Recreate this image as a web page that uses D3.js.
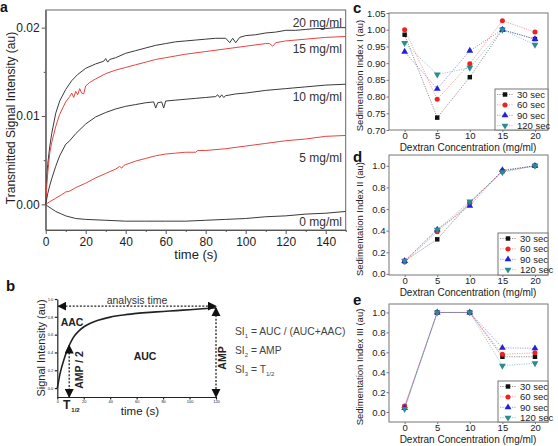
<!DOCTYPE html>
<html>
<head>
<meta charset="utf-8">
<script src="https://cdn.jsdelivr.net/npm/d3@7"></script>
<style>
  body { margin: 0; background: #fff; }
  svg { display: block; font-family: "Liberation Sans", Arial, sans-serif; }
</style>
</head>
<body>
<svg id="chart" width="558" height="446"></svg>
<script>
// ---------- data: panel a (transmitted signal vs time) ----------
const aTicksX = [0, 20, 40, 60, 80, 100, 120, 140];
const aTicksY = [0, 0.01, 0.02];

const curve20 = [[0,0],[0.5,0.003],[1,0.0045],[2,0.0065],[3,0.008],[5,0.0103],[7,0.0117],[10,0.013],[13,0.014],[16,0.0147],[20,0.0154],[25,0.0159],[29,0.0162],[30,0.0165],[31,0.0161],[32,0.0164],[35,0.0166],[40,0.0171],[45,0.0174],[50,0.0177],[55,0.018],[60,0.0182],[65,0.0184],[70,0.0185],[75,0.0186],[80,0.0187],[85,0.0188],[90,0.0188],[92,0.0183],[93.5,0.0188],[95,0.0183],[97,0.0189],[100,0.0191],[105,0.0192],[110,0.0194],[115,0.0195],[120,0.0197],[125,0.0197],[130,0.0198],[135,0.0199],[140,0.0199],[145,0.02],[150,0.02]];
const curve15 = [[0,0],[0.5,0.002],[1,0.0035],[2,0.0058],[3,0.007],[5,0.0088],[7,0.0102],[10,0.0116],[12,0.0122],[13,0.0126],[14,0.0121],[15,0.0128],[16,0.0124],[17,0.0131],[18,0.0126],[19,0.0125],[20,0.0134],[22,0.0138],[25,0.0142],[30,0.0148],[35,0.0152],[40,0.0155],[45,0.0158],[50,0.0161],[55,0.0164],[60,0.0166],[65,0.0168],[70,0.017],[80,0.0173],[90,0.0176],[100,0.0179],[110,0.0182],[112,0.0182],[113.5,0.0179],[115,0.0183],[120,0.0185],[130,0.0187],[140,0.0189],[150,0.019]];
const curve10 = [[0,0],[1,0.0012],[2,0.0021],[3,0.0029],[5,0.0043],[7,0.0055],[10,0.0068],[12,0.0072],[15,0.008],[20,0.0091],[25,0.0099],[30,0.0104],[35,0.0108],[40,0.0111],[45,0.0113],[50,0.0115],[54,0.0116],[55,0.0109],[56,0.0115],[58,0.0116],[59,0.0109],[60,0.0117],[65,0.0118],[70,0.0119],[75,0.012],[80,0.0121],[85,0.0122],[86,0.0124],[87,0.0121],[88,0.0124],[89,0.0121],[90,0.0123],[95,0.0125],[100,0.0126],[110,0.0129],[120,0.0131],[130,0.0133],[140,0.0135],[150,0.0136]];
const curve5 = [[0,0],[2,0.0003],[5,0.0007],[8,0.0011],[10,0.0014],[12,0.0015],[15,0.0019],[20,0.0024],[25,0.003],[30,0.0035],[35,0.004],[37,0.0043],[38,0.0041],[39,0.0044],[40,0.0045],[45,0.0049],[50,0.0052],[55,0.0055],[60,0.0057],[65,0.0058],[70,0.0059],[75,0.0059],[76,0.0061],[80,0.0061],[90,0.0063],[100,0.0066],[110,0.0069],[120,0.0072],[130,0.0074],[140,0.0077],[150,0.0078]];
const curve0 = [[0,0],[1,-0.0002],[3,-0.0005],[5,-0.0008],[8,-0.0011],[10,-0.0013],[15,-0.0016],[20,-0.0017],[30,-0.0018],[40,-0.0019],[50,-0.0019],[60,-0.0019],[70,-0.0019],[80,-0.0018],[90,-0.0017],[100,-0.0016],[110,-0.0014],[120,-0.0013],[130,-0.0011],[140,-0.001],[150,-0.0008]];
const curveLabels = ["20 mg/ml", "15 mg/ml", "10 mg/ml", "5 mg/ml", "0 mg/ml"];

// ---------- data: panel b (schematic) ----------
const bTicksX = [0, 20, 40, 60, 80, 100, 120];
const bTicksY = [0, 0.2, 0.4, 0.6, 0.8, 1.0];
const bCurve = [[0,0],[1,0.08],[2,0.16],[3,0.22],[5,0.32],[7,0.41],[9,0.48],[11,0.54],[13,0.59],[16,0.64],[20,0.69],[25,0.73],[30,0.76],[40,0.8],[50,0.82],[60,0.84],[70,0.85],[80,0.86],[90,0.87],[100,0.88],[110,0.89],[120,0.9]];
const bHalfTime = 9;
const bHalfValue = 0.48;
const bAmpValue = 0.9;
const bAnalysisValue = 0.92;

// ---------- data: panels c, d, e (sedimentation indices) ----------
const conc = [0, 5, 10, 15, 20];
const timeLabels = ["30 sec", "60 sec", "90 sec", "120 sec"];
const si1 = [
  [0.985, 0.737, 0.858, 1.0, 0.972],
  [1.0, 0.792, 0.898, 1.027, 0.993],
  [0.934, 0.823, 0.937, 1.0, 0.972],
  [0.96, 0.866, 0.886, 1.0, 0.955],
];
const si2 = [
  [0.12, 0.32, 0.66, 0.95, 1.0],
  [0.11, 0.39, 0.655, 0.955, 1.0],
  [0.12, 0.41, 0.63, 0.96, 1.0],
  [0.12, 0.41, 0.67, 0.94, 1.0],
];
const si3 = [
  [0.05, 1.0, 1.0, 0.555, 0.555],
  [0.06, 1.0, 1.0, 0.58, 0.595],
  [0.04, 1.0, 1.0, 0.645, 0.64],
  [0.03, 1.0, 1.0, 0.465, 0.49],
];
const si1Ticks = [0.70, 0.75, 0.80, 0.85, 0.90, 0.95, 1.00, 1.05];
const si23Ticks = [0, 0.2, 0.4, 0.6, 0.8, 1.0];

// ---------- drawing ----------
const svg = d3.select("#chart");
svg.append("rect").attr("width", 558).attr("height", 446).attr("fill", "#fff");

const dark = "#3a3a3a";
const red = "#e5453f";
const txt = "#222";

function panelLetter(x, y, s, fs = 15) {
  svg.append("text").attr("x", x).attr("y", y)
    .attr("font-size", fs).attr("font-weight", "bold").attr("fill", "#111").text(s);
}

function styleAxis(sel, fs) {
  sel.selectAll("path").attr("stroke", "#555");
  sel.selectAll("line").attr("stroke", "#555");
  sel.selectAll("text").attr("font-size", fs).attr("fill", txt)
    .attr("font-family", "'Liberation Sans', Arial, sans-serif");
}

// ===== panel a =====
const xA = d3.scaleLinear().domain([0, 150]).range([45.7, 345.7]);
const yA = d3.scaleLinear().domain([-0.0029, 0.022]).range([230, 10]);
const gA = svg.append("g");

gA.append("rect").attr("x", 45.7).attr("y", 10).attr("width", 300).attr("height", 220)
  .attr("fill", "none").attr("stroke", "#666").attr("stroke-width", 1);

const axA = gA.append("g").attr("transform", "translate(0,230)")
  .call(d3.axisBottom(xA).tickValues(aTicksX).tickSize(4).tickSizeOuter(0).tickPadding(3));
styleAxis(axA, 12);
gA.append("g").attr("transform", "translate(0,230)")
  .call(d3.axisBottom(xA).tickValues(d3.range(10, 151, 20)).tickSize(2).tickFormat(""))
  .call(s => { s.select("path").remove(); s.selectAll("line").attr("stroke", "#555"); });

const ayA = gA.append("g").attr("transform", "translate(45.7,0)")
  .call(d3.axisLeft(yA).tickValues(aTicksY).tickFormat(d3.format(".2f")).tickSize(4).tickSizeOuter(0).tickPadding(2));
styleAxis(ayA, 12);
gA.append("g").attr("transform", "translate(45.7,0)")
  .call(d3.axisLeft(yA).tickValues([0.005, 0.015]).tickSize(2).tickFormat(""))
  .call(s => { s.select("path").remove(); s.selectAll("line").attr("stroke", "#555"); });

const lineA = d3.line().x(d => xA(d[0])).y(d => yA(d[1]));
const aCurves = [curve20, curve15, curve10, curve5, curve0];
const aColors = [dark, red, dark, red, dark];
const aLabelY = [27, 53, 101, 162, 226];

aCurves.forEach((c, i) => {
  gA.append("path").datum(c).attr("d", lineA).attr("fill", "none")
    .attr("stroke", aColors[i]).attr("stroke-width", 1);
  gA.append("text").attr("x", 342).attr("y", aLabelY[i]).attr("text-anchor", "end")
    .attr("font-size", 12).attr("fill", "#333").text(curveLabels[i]);
});

gA.append("text").attr("transform", "translate(15,118) rotate(-90)")
  .attr("text-anchor", "middle").attr("font-size", 12).attr("fill", txt)
  .text("Transmitted Signal Intensity (au)");
gA.append("text").attr("x", 196).attr("y", 259).attr("text-anchor", "middle")
  .attr("font-size", 13).attr("fill", txt).text("time (s)");
panelLetter(0, 12, "a", 14);

// ===== panel b =====
const xB = d3.scaleLinear().domain([0, 120]).range([57.3, 216]);
const yB = d3.scaleLinear().domain([-0.1, 1.0]).range([397, 299]);
const gB = svg.append("g");

const defs = svg.append("defs");
defs.append("marker").attr("id", "arr").attr("viewBox", "0 0 10 10")
  .attr("refX", 9).attr("refY", 5).attr("markerWidth", 7).attr("markerHeight", 7)
  .attr("orient", "auto-start-reverse")
  .append("path").attr("d", "M0,0L10,5L0,10z").attr("fill", "#111");

const axB = gB.append("g").attr("transform", "translate(0,397)")
  .call(d3.axisBottom(xB).tickValues(bTicksX).tickSize(2.5).tickSizeOuter(0).tickPadding(1));
styleAxis(axB, 4);
axB.selectAll("path,line").attr("stroke", "#222").attr("stroke-width", 1.2);
const ayB = gB.append("g").attr("transform", "translate(57.3,0)")
  .call(d3.axisLeft(yB).tickValues(bTicksY).tickFormat(d3.format(".1f")).tickSize(2.5).tickSizeOuter(0).tickPadding(1.5));
styleAxis(ayB, 4);
ayB.selectAll("path,line").attr("stroke", "#222").attr("stroke-width", 1.2);

gB.append("path").datum(bCurve)
  .attr("d", d3.line().curve(d3.curveBasis).x(d => xB(d[0])).y(d => yB(d[1])))
  .attr("fill", "none").attr("stroke", "#222").attr("stroke-width", 1.6);

function dotArrow(x1, y1, x2, y2, both) {
  gB.append("line").attr("x1", x1).attr("y1", y1).attr("x2", x2).attr("y2", y2)
    .attr("stroke", "#222").attr("stroke-width", 1.3).attr("stroke-dasharray", "2,1.6")
    .attr("marker-end", "url(#arr)")
    .attr("marker-start", both ? "url(#arr)" : null);
}
dotArrow(xB(0) + 1, yB(bAnalysisValue), xB(120), yB(bAnalysisValue), true);
dotArrow(xB(120), yB(bAmpValue), xB(120), yB(-0.1), true);
dotArrow(xB(bHalfTime), yB(bHalfValue), xB(bHalfTime), yB(-0.1), true);

gB.append("text").attr("x", 137).attr("y", 304).attr("text-anchor", "middle")
  .attr("font-size", 10.5).attr("fill", "#333").text("analysis time");
gB.append("text").attr("x", 72).attr("y", 326).attr("text-anchor", "middle")
  .attr("font-size", 10.5).attr("font-weight", "bold").attr("fill", "#222").text("AAC");
gB.append("text").attr("x", 145).attr("y", 360).attr("text-anchor", "middle")
  .attr("font-size", 10.5).attr("font-weight", "bold").attr("fill", "#222").text("AUC");
gB.append("text").attr("transform", "translate(83,370) rotate(-90)").attr("text-anchor", "middle")
  .attr("font-size", 10.5).attr("font-weight", "bold").attr("fill", "#222").text("AMP / 2");
gB.append("text").attr("transform", "translate(226,358) rotate(-90)").attr("text-anchor", "middle")
  .attr("font-size", 10.5).attr("font-weight", "bold").attr("fill", "#222").text("AMP");
const tHalf = gB.append("text").attr("x", 63).attr("y", 409).attr("font-size", 12)
  .attr("font-weight", "bold").attr("fill", "#222");
tHalf.append("tspan").text("T");
tHalf.append("tspan").attr("font-size", 6).attr("dy", 3).attr("dx", 1).text("1/2");
gB.append("text").attr("x", 140).attr("y", 415).attr("text-anchor", "middle")
  .attr("font-size", 11.5).attr("fill", "#222").text("time (s)");
gB.append("text").attr("transform", "translate(45,348) rotate(-90)").attr("text-anchor", "middle")
  .attr("font-size", 11).attr("fill", "#222").text("Signal Intensity (au)");

const eqs = [["1", " = AUC / (AUC+AAC)"], ["2", " = AMP"], ["3", " = T"]];
eqs.forEach((e, i) => {
  const t = gB.append("text").attr("x", 235).attr("y", 335 + i * 19)
    .attr("font-size", 10.3).attr("fill", "#444");
  t.append("tspan").text("SI");
  t.append("tspan").attr("font-size", 6).attr("dy", 2.5).text(e[0]);
  t.append("tspan").attr("dy", -2.5).text(e[1]);
  if (i === 2) t.append("tspan").attr("font-size", 6).attr("dy", 2.5).text("1/2");
});
panelLetter(6, 291, "b");

// ===== panels c, d, e =====
const seriesColors = ["#111", "#ee2222", "#2222dd", "#2a8c8c"];
const seriesSymbols = [
  { type: d3.symbolSquare, rot: 0 },
  { type: d3.symbolCircle, rot: 0 },
  { type: d3.symbolTriangle, rot: 0 },
  { type: d3.symbolTriangle, rot: 180 },
];

function siPanel(o) {
  const g = svg.append("g");
  const x = d3.scaleLinear().domain([-2.4, 22]).range([389, 548]);
  const y = d3.scaleLinear().domain(o.yDomain).range([o.bottom, o.top]);

  g.append("rect").attr("x", 389).attr("y", o.top).attr("width", 159)
    .attr("height", o.bottom - o.top).attr("fill", "none").attr("stroke", "#777");

  const ax = g.append("g").attr("transform", `translate(0,${o.bottom})`)
    .call(d3.axisBottom(x).tickValues(conc).tickSize(2).tickSizeOuter(0).tickPadding(0));
  styleAxis(ax, 9.5);
  ax.select("path").remove();
  ax.selectAll("line").attr("stroke", "#777");

  const ay = g.append("g").attr("transform", "translate(389,0)")
    .call(d3.axisLeft(y).tickValues(o.ticks).tickFormat(d3.format(o.fmt)).tickSize(2.5).tickSizeOuter(0).tickPadding(1));
  styleAxis(ay, 9.5);
  ay.select("path").remove();
  ay.selectAll("line").attr("stroke", "#777");

  const line = d3.line().x((d, i) => x(conc[i])).y(d => y(d));
  o.data.forEach((s, k) => {
    g.append("path").datum(s).attr("d", line).attr("fill", "none")
      .attr("stroke", seriesColors[k]).attr("stroke-opacity", 0.55)
      .attr("stroke-width", 0.8).attr("stroke-dasharray", "1.2,1.2");
  });
  o.data.forEach((s, k) => {
    const sym = d3.symbol().type(seriesSymbols[k].type).size(20);
    g.selectAll(null).data(s).join("path")
      .attr("d", sym)
      .attr("transform", (d, i) => `translate(${x(conc[i])},${y(d)}) rotate(${seriesSymbols[k].rot})`)
      .attr("fill", seriesColors[k]);
  });

  // legend
  const lg = g.append("g");
  lg.append("rect").attr("x", o.legX).attr("y", o.legY).attr("width", 548 - o.legX)
    .attr("height", o.bottom - o.legY).attr("fill", "#fff").attr("stroke", "#777");
  timeLabels.forEach((lab, k) => {
    const cy = o.legY + 5.5 + k * 10.4;
    lg.append("line").attr("x1", o.legX + 2).attr("x2", o.legX + 18).attr("y1", cy).attr("y2", cy)
      .attr("stroke", seriesColors[k]).attr("stroke-opacity", 0.55)
      .attr("stroke-width", 0.8).attr("stroke-dasharray", "1.2,1.2");
    lg.append("path").attr("d", d3.symbol().type(seriesSymbols[k].type).size(20))
      .attr("transform", `translate(${o.legX + 10},${cy}) rotate(${seriesSymbols[k].rot})`)
      .attr("fill", seriesColors[k]);
    lg.append("text").attr("x", o.legX + 22).attr("y", cy + 3.3)
      .attr("font-size", 9.5).attr("fill", txt).text(lab);
  });

  g.append("text").attr("x", 468).attr("y", o.bottom + 20.5).attr("text-anchor", "middle")
    .attr("font-size", 10).attr("fill", txt).text("Dextran Concentration (mg/ml)");
  g.append("text").attr("transform", `translate(363,${(o.top + o.bottom) / 2 + 4}) rotate(-90)`)
    .attr("text-anchor", "middle").attr("font-size", 9.5).attr("fill", txt).text(o.title);
  panelLetter(353, o.letterY, o.letter);
}

siPanel({ top: 13, bottom: 130, yDomain: [0.70, 1.05], ticks: si1Ticks, fmt: ".2f",
  data: si1, title: "Sedimentation Index I (au)", letter: "c", letterY: 13, legX: 495, legY: 89 });
siPanel({ top: 155, bottom: 275, yDomain: [-0.01, 1.1], ticks: si23Ticks, fmt: ".1f",
  data: si2, title: "Sedimentation Index II (au)", letter: "d", letterY: 162, legX: 498, legY: 233 });
siPanel({ top: 304, bottom: 422, yDomain: [-0.1, 1.085], ticks: si23Ticks, fmt: ".1f",
  data: si3, title: "Sedimentation Index III (au)", letter: "e", letterY: 305, legX: 498, legY: 381 });
</script>
</body>
</html>
